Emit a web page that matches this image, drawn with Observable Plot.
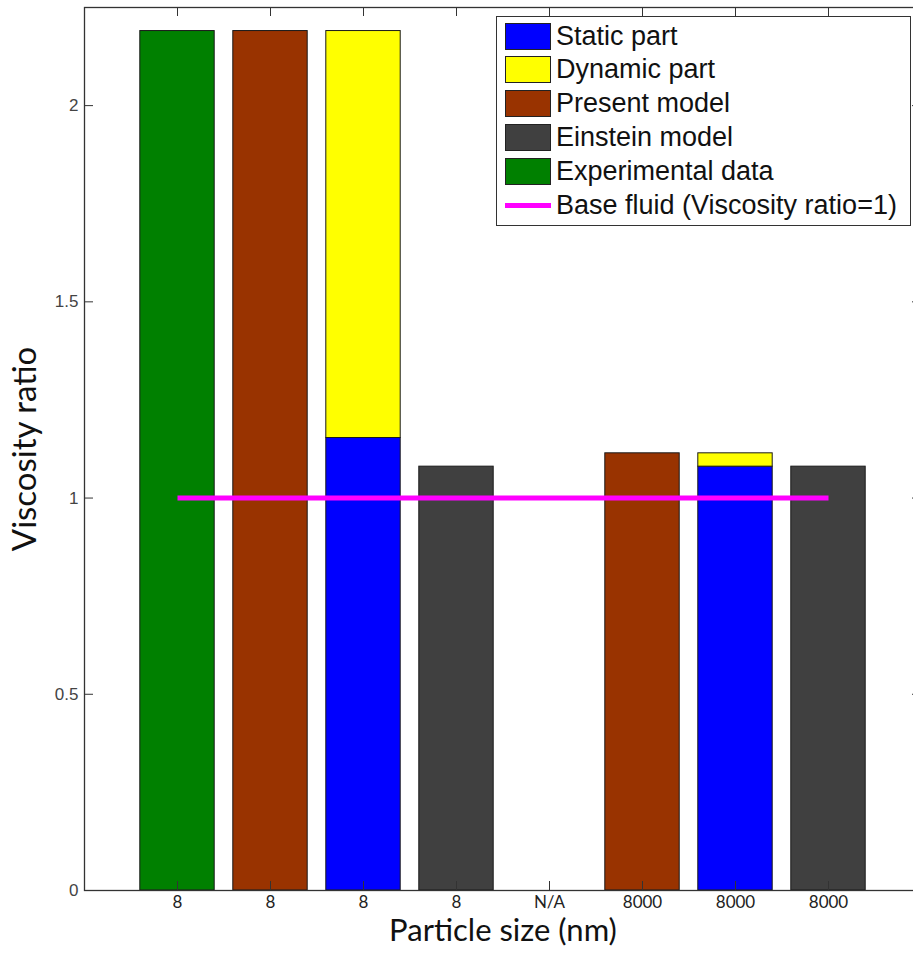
<!DOCTYPE html>
<html>
<head>
<meta charset="utf-8">
<script src="https://cdn.jsdelivr.net/npm/d3@7"></script>
<script src="https://cdn.jsdelivr.net/npm/@observablehq/plot@0.6"></script>
<style>
  html, body { margin: 0; padding: 0; background: #fff; overflow: hidden; }
  #chart { position: relative; width: 913px; height: 954px; }
  #chart svg { max-width: none; }
  .legend {
    position: absolute; left: 496px; top: 16px; width: 415px; height: 210px;
    border: 1px solid #333; background: #fff; box-sizing: border-box;
    font-family: "Liberation Sans", Arial, sans-serif; font-size: 27px; color: #111;
  }
  .legend .row { position: absolute; left: 8px; height: 34px; display: flex; align-items: center; white-space: nowrap; }
  .legend .sw { width: 46px; height: 27px; border: 1px solid #222; box-sizing: border-box; margin-right: 5px; }
  .legend .ln { width: 46px; height: 5px; margin-right: 5px; }
</style>
</head>
<body>
<div id="chart"></div>
<script>
// Bar slots along the x axis and their particle-size labels
const positions = [1, 2, 3, 4, 5, 6, 7, 8];
const tickLabels = ["8", "8", "8", "8", "N/A", "8000", "8000", "8000"];
const yTicks = [0, 0.5, 1, 1.5, 2];

// Viscosity ratio per slot (null = no bar in that slot)
const experimentalData = [2.19, null, null, null, null, null, null, null];
const presentModel     = [null, 2.19, null, null, null, 1.114, null, null];
const staticPart       = [null, null, 1.153, null, null, null, 1.08, null];
const dynamicPart      = [null, null, 1.037, null, null, null, 0.034, null];
const einsteinModel    = [null, null, null, 1.08, null, null, null, 1.08];

// Base fluid reference line
const baseFluidPositions = [1, 8];
const baseFluidValues = [1, 1];

const seriesNames  = ["Static part", "Dynamic part", "Present model", "Einstein model", "Experimental data"];
const seriesColors = ["#0000ff", "#ffff00", "#993300", "#404040", "#008000"];
const baseFluidName = "Base fluid (Viscosity ratio=1)";
const baseFluidColor = "#ff00ff";

// Build bar segments; the dynamic part is stacked on top of the static part
const bars = [];
function addSeries(name, values, base) {
  values.forEach((v, i) => {
    if (v == null) return;
    const b = base && base[i] != null ? base[i] : 0;
    bars.push({series: name, pos: positions[i], y1: b, y2: b + v});
  });
}
addSeries("Experimental data", experimentalData);
addSeries("Present model", presentModel);
addSeries("Static part", staticPart);
addSeries("Dynamic part", dynamicPart, staticPart);
addSeries("Einstein model", einsteinModel);

const baseFluid = baseFluidPositions.map((p, i) => ({pos: p, value: baseFluidValues[i]}));

// Layout
const W = 913, H = 954;
const mLeft = 84, mRight = -8, mTop = 7, mBottom = 64;
const frameW = W - mLeft - mRight;
const frameH = H - mTop - mBottom;
const tickLen = 9;
const halfBar = 0.4;
const axisColor = "#333";

const chart = Plot.plot({
  width: W,
  height: H,
  marginLeft: mLeft,
  marginRight: mRight,
  marginTop: mTop,
  marginBottom: mBottom,
  x: {type: "linear", domain: [0, 9], axis: null},
  y: {domain: [0, 2.25], axis: null},
  color: {domain: seriesNames, range: seriesColors},
  style: {background: "#fff"},
  marks: [
    Plot.rectY(bars, {
      x1: d => d.pos - halfBar,
      x2: d => d.pos + halfBar,
      y1: "y1",
      y2: "y2",
      fill: "series",
      stroke: "#1a1a1a",
      strokeWidth: 1
    }),
    Plot.line(baseFluid, {x: "pos", y: "value", stroke: baseFluidColor, strokeWidth: 5, strokeLinecap: "butt"}),
    Plot.frame({stroke: axisColor, strokeWidth: 1.3}),
    // inward tick marks on all four sides
    Plot.ruleX(positions, {x: d => d, insetTop: frameH - tickLen, stroke: axisColor}),
    Plot.ruleX(positions, {x: d => d, insetBottom: frameH - tickLen, stroke: axisColor}),
    Plot.ruleY(yTicks, {y: d => d, insetRight: frameW - tickLen, stroke: axisColor}),
    Plot.ruleY(yTicks, {y: d => d, insetLeft: frameW - tickLen, stroke: axisColor}),
    // tick labels
    Plot.axisX({
      anchor: "bottom", ticks: positions, tickSize: 0, tickPadding: 5,
      tickFormat: d => tickLabels[d - 1], label: null,
      fontFamily: "Lato", fontSize: 17, fill: "#222"
    }),
    Plot.axisY({
      anchor: "left", ticks: yTicks, tickSize: 0, tickPadding: 6,
      tickFormat: d => String(d), label: null,
      fontFamily: "Liberation Sans", fontSize: 17, fill: "#444"
    }),
    // axis titles
    Plot.text(["Particle size (nm)"], {
      text: d => d, frameAnchor: "bottom", lineAnchor: "bottom", textAnchor: "middle", dy: 50,
      fontFamily: "Lato", fontSize: 31, fill: "#111"
    }),
    Plot.text(["Viscosity ratio"], {
      text: d => d, frameAnchor: "left", lineAnchor: "middle", textAnchor: "middle", dx: -59, rotate: -90,
      fontFamily: "Lato", fontSize: 33, fill: "#111"
    })
  ]
});

const container = document.getElementById("chart");
container.appendChild(chart);

// Legend box in the upper right of the axes
const legend = document.createElement("div");
legend.className = "legend";
seriesNames.forEach((name, i) => {
  const row = document.createElement("div");
  row.className = "row";
  row.style.top = (2 + i * 33.8) + "px";
  const sw = document.createElement("div");
  sw.className = "sw";
  sw.style.background = seriesColors[i];
  const label = document.createElement("span");
  label.textContent = name;
  row.appendChild(sw);
  row.appendChild(label);
  legend.appendChild(row);
});
{
  const row = document.createElement("div");
  row.className = "row";
  row.style.top = (2 + seriesNames.length * 33.8) + "px";
  const ln = document.createElement("div");
  ln.className = "ln";
  ln.style.background = baseFluidColor;
  const label = document.createElement("span");
  label.textContent = baseFluidName;
  row.appendChild(ln);
  row.appendChild(label);
  legend.appendChild(row);
}
container.appendChild(legend);
</script>
</body>
</html>
